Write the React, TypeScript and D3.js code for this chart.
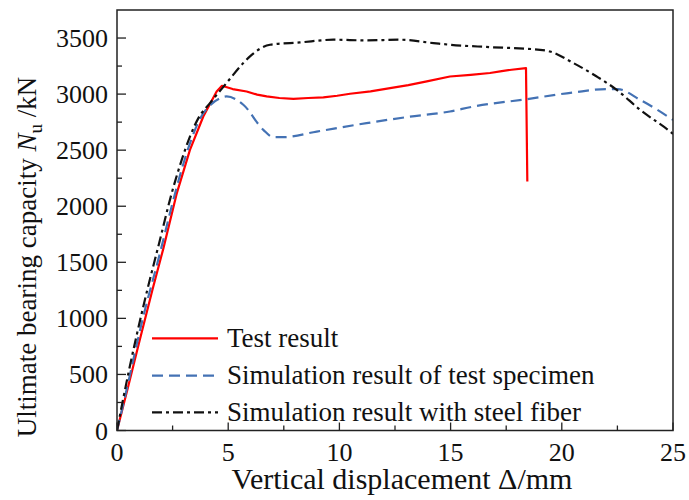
import React from "react";
import * as d3 from "d3";

// Load–displacement curves (Δ in mm, Nu in kN)
const testResult: [number, number][] = [
  [0, 0], [0.5, 390], [1.0, 790], [1.6, 1260], [2.08, 1620], [2.68, 2110],
  [3.28, 2503], [3.88, 2800], [4.48, 3023], [4.72, 3074], [5.2, 3045],
  [5.83, 3023], [6.3, 2995], [6.73, 2979], [7.3, 2965], [7.93, 2958],
  [8.6, 2965], [9.28, 2970], [9.9, 2985], [10.48, 3003], [11.4, 3025],
  [12.28, 3053], [13.1, 3080], [13.93, 3113], [14.97, 3157], [15.9, 3172],
  [16.77, 3188], [17.3, 3205], [17.74, 3217], [18.39, 3232], [18.45, 2220],
];

const simSpecimen: [number, number][] = [
  [0, 0], [0.3, 250], [1.18, 1015], [1.93, 1580], [2.46, 2000], [2.91, 2330],
  [3.28, 2560], [3.73, 2780], [4.18, 2900], [4.6, 2960], [4.93, 2979],
  [5.68, 2905], [6.58, 2681], [7.03, 2616], [7.48, 2616], [8.98, 2666],
  [11.22, 2741], [13.03, 2795], [14.97, 2845], [16.02, 2889], [18.43, 2955],
  [20.52, 3015], [22.02, 3045], [22.5, 3045], [23.52, 2949], [25, 2770],
];

const simSteelFiber: [number, number][] = [
  [0, 0], [0.51, 509], [1.18, 1104], [1.93, 1699], [2.46, 2116], [2.91, 2413],
  [3.28, 2621], [3.66, 2786], [4.18, 2920], [4.86, 3083], [5.68, 3277],
  [5.98, 3336], [6.88, 3440], [8.23, 3461], [9.73, 3485], [11.22, 3479],
  [12.72, 3485], [14.23, 3455], [14.97, 3440], [16.77, 3419], [19.02, 3395],
  [19.47, 3380], [20.52, 3277], [21.57, 3157], [22.47, 3038], [23.52, 2860],
  [24.87, 2666], [25, 2645],
];

const xTicks = [0, 5, 10, 15, 20, 25];
const yTicks = [0, 500, 1000, 1500, 2000, 2500, 3000, 3500];
const xMinor = [2.5, 7.5, 12.5, 17.5, 22.5];
const yMinor = [250, 750, 1250, 1750, 2250, 2750, 3250];

const legendLabels = [
  "Test result",
  "Simulation result of test specimen",
  "Simulation result with steel fiber",
];

const FONT = '"Liberation Serif", "Times New Roman", serif';
const W = 689;
const H = 500;
const left = 117;
const right = 673;
const top = 10;
const bottom = 430.5;

export default function App() {
  const x = d3.scaleLinear().domain([0, 25]).range([left, right]);
  const y = d3.scaleLinear().domain([0, 3750]).range([bottom, top]);

  const smooth = d3
    .line<[number, number]>()
    .x((d) => x(d[0]))
    .y((d) => y(d[1]))
    .curve(d3.curveMonotoneX);
  const straight = d3
    .line<[number, number]>()
    .x((d) => x(d[0]))
    .y((d) => y(d[1]));

  const series = [
    { data: testResult, color: "#ff0000", dash: undefined, path: straight },
    { data: simSpecimen, color: "#4472b4", dash: "11,6", path: smooth },
    { data: simSteelFiber, color: "#111111", dash: "10,4,3,4", path: smooth },
  ];

  const legendY = [338.3, 375.7, 412.3];

  return (
    <svg
      width={W}
      height={H}
      style={{ position: "absolute", left: 0, top: 0, background: "#fff" }}
      fontFamily={FONT}
    >
      <defs>
        <clipPath id="plot-clip">
          <rect x={left} y={top} width={right - left} height={bottom - top} />
        </clipPath>
      </defs>

      {/* curves */}
      <g clipPath="url(#plot-clip)">
        {series.map((s, i) => (
          <path
            key={i}
            d={s.path(s.data) || ""}
            fill="none"
            stroke={s.color}
            strokeWidth={2.2}
            strokeDasharray={s.dash}
            strokeLinejoin="round"
          />
        ))}
      </g>

      {/* frame */}
      <rect
        x={left}
        y={top}
        width={right - left}
        height={bottom - top}
        fill="none"
        stroke="#222"
        strokeWidth={1.5}
      />

      {/* x ticks */}
      {xTicks.map((t) => (
        <g key={"x" + t}>
          <line x1={x(t)} x2={x(t)} y1={bottom} y2={bottom - 8} stroke="#222" strokeWidth={1.3} />
          <text x={x(t)} y={461} textAnchor="middle" fontSize={26} fill="#111">
            {t}
          </text>
        </g>
      ))}
      {xMinor.map((t) => (
        <line key={"xm" + t} x1={x(t)} x2={x(t)} y1={bottom} y2={bottom - 5} stroke="#222" strokeWidth={1.3} />
      ))}

      {/* y ticks */}
      {yTicks.map((t) => (
        <g key={"y" + t}>
          <line x1={left} x2={left + 9} y1={y(t)} y2={y(t)} stroke="#222" strokeWidth={1.3} />
          <text x={108} y={y(t) + 9} textAnchor="end" fontSize={26} fill="#111">
            {t}
          </text>
        </g>
      ))}
      {yMinor.map((t) => (
        <line key={"ym" + t} x1={left} x2={left + 5} y1={y(t)} y2={y(t)} stroke="#222" strokeWidth={1.3} />
      ))}

      {/* axis titles */}
      <text x={402} y={489} textAnchor="middle" fontSize={30} fill="#111">
        Vertical displacement Δ/mm
      </text>
      <text
        transform="translate(36,257) rotate(-90)"
        textAnchor="middle"
        fontSize={27}
        fill="#111"
      >
        Ultimate bearing capacity <tspan fontStyle="italic">N</tspan>
        <tspan fontSize={19} dy={6}>u</tspan>
        <tspan dy={-6}> /kN</tspan>
      </text>

      {/* legend */}
      {series.map((s, i) => (
        <g key={"lg" + i}>
          <line
            x1={152}
            x2={218}
            y1={legendY[i]}
            y2={legendY[i]}
            stroke={s.color}
            strokeWidth={2.2}
            strokeDasharray={s.dash}
          />
          <text x={227} y={legendY[i] + 8.5} fontSize={27} fill="#111">
            {legendLabels[i]}
          </text>
        </g>
      ))}
    </svg>
  );
}
